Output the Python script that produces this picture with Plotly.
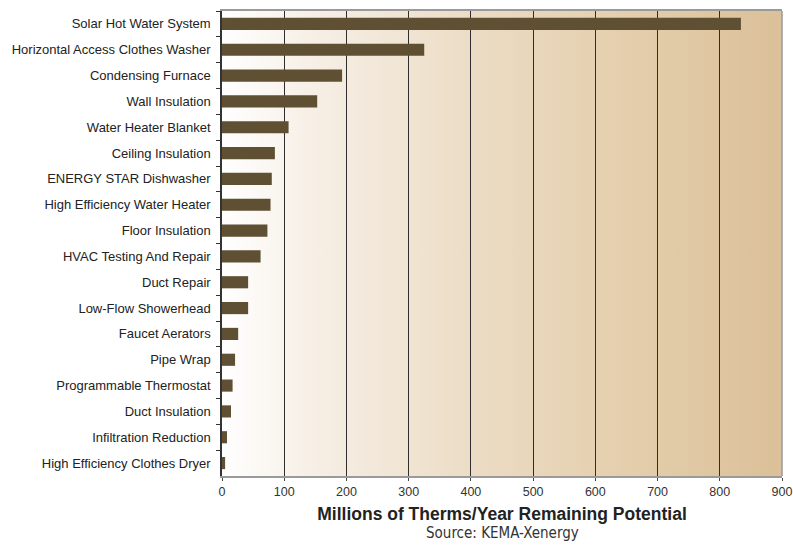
import base64
import plotly.graph_objects as go

categories = [
    "Solar Hot Water System",
    "Horizontal Access Clothes Washer",
    "Condensing Furnace",
    "Wall Insulation",
    "Water Heater Blanket",
    "Ceiling Insulation",
    "ENERGY STAR Dishwasher",
    "High Efficiency Water Heater",
    "Floor Insulation",
    "HVAC Testing And Repair",
    "Duct Repair",
    "Low-Flow Showerhead",
    "Faucet Aerators",
    "Pipe Wrap",
    "Programmable Thermostat",
    "Duct Insulation",
    "Infiltration Reduction",
    "High Efficiency Clothes Dryer",
]
values = [834, 325, 193, 153, 107, 85, 80, 78, 73, 62, 42, 42, 26, 21, 17, 14.5, 8, 5]
x_ticks = [0, 100, 200, 300, 400, 500, 600, 700, 800, 900]

svg = (
    '<svg xmlns="http://www.w3.org/2000/svg" width="560" height="465" preserveAspectRatio="none">'
    '<defs><linearGradient id="g" x1="0" y1="0" x2="1" y2="0">'
    '<stop offset="0" stop-color="#ffffff"/>'
    '<stop offset="0.15" stop-color="#f7f0e7"/>'
    '<stop offset="0.45" stop-color="#ecdcc5"/>'
    '<stop offset="0.75" stop-color="#e3cdaa"/>'
    '<stop offset="1" stop-color="#dbc099"/>'
    '</linearGradient></defs>'
    '<rect x="0" y="0" width="560" height="465" fill="url(#g)"/></svg>'
)
uri = "data:image/svg+xml;base64," + base64.b64encode(svg.encode()).decode()

fig = go.Figure()
fig.add_trace(go.Bar(
    x=values, y=categories, orientation="h",
    marker=dict(color="#5f4f33", line=dict(width=0)),
    hoverinfo="skip",
))

fig.add_layout_image(dict(
    source=uri, xref="x domain", yref="y domain", x=0, y=1,
    sizex=1, sizey=1, sizing="stretch", xanchor="left", yanchor="top",
    layer="below",
))

fig.add_shape(type="line", xref="x domain", yref="y domain", x0=1, x1=1, y0=0, y1=1,
              line=dict(color="#9a9a9a", width=1.5))

fig.update_layout(
    width=793, height=558,
    margin=dict(l=222, r=11, t=11, b=82, autoexpand=False),
    paper_bgcolor="white",
    plot_bgcolor="rgba(0,0,0,0)",
    bargap=0.53,
    showlegend=False,
    font=dict(family="Liberation Sans, Arial, sans-serif", color="#333333", size=12),
    xaxis=dict(
        range=[0, 900], tickvals=x_ticks, ticktext=[str(t) for t in x_ticks],
        showgrid=True, gridcolor="#2e2e2e", gridwidth=1.2,
        showline=True, linecolor="#9a9a9a", linewidth=1.5, mirror=True,
        ticks="outside", ticklen=3, tickcolor="#444",
        tickfont=dict(size=12.5, color="#333"),
        zeroline=False, automargin=False, ticklabeloverflow="allow",
        title=dict(text="<b>Millions of Therms/Year Remaining Potential</b>",
                   font=dict(size=17.5, color="#222"), standoff=10),
    ),
    yaxis=dict(
        categoryorder="array", categoryarray=categories, autorange="reversed",
        showline=True, linecolor="#333", linewidth=1.5,
        ticks="outside", ticklen=4, tickcolor="#333", tickson="boundaries",
        tickfont=dict(size=13, color="#222"),
        ticklabelstandoff=7,
        showgrid=False, automargin=False,
    ),
)

fig.add_annotation(
    text="Source: KEMA-Xenergy", xref="paper", yref="paper",
    x=0.5, y=0, yshift=-46, xanchor="center", yanchor="top", showarrow=False,
    font=dict(family="DejaVu Sans Condensed, DejaVu Sans", size=15, color="#333"),
)

fig.write_html(
    "out.html",
    config={"displayModeBar": False},
    post_script="document.body.style.margin='0';document.body.style.overflow='hidden';",
)
